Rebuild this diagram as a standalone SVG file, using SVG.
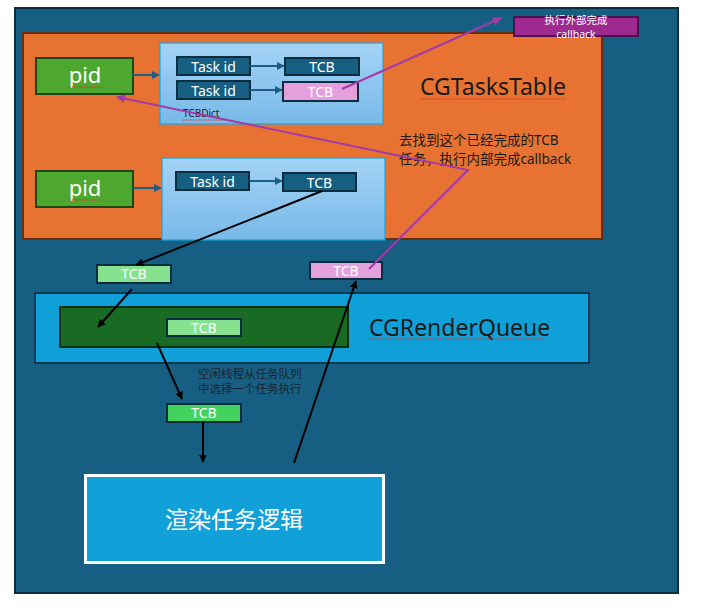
<svg xmlns="http://www.w3.org/2000/svg" width="716" height="615" viewBox="0 0 716 615">
<defs>
<linearGradient id="dictGrad" x1="0" y1="0" x2="0" y2="1">
<stop offset="0" stop-color="#a4d3f6"/>
<stop offset="1" stop-color="#78b9e8"/>
</linearGradient>
<marker id="arB" viewBox="0 0 10 10" refX="9" refY="5" markerWidth="4" markerHeight="4" orient="auto"><path d="M0,0 L10,5 L0,10 z" fill="#1b5f82"/></marker>
<marker id="arK" viewBox="0 0 10 10" refX="9" refY="5" markerWidth="4" markerHeight="4" orient="auto"><path d="M0,0 L10,5 L0,10 z" fill="#000"/></marker>
<marker id="arP" viewBox="0 0 10 10" refX="9" refY="5" markerWidth="4.5" markerHeight="4.5" orient="auto"><path d="M0,0 L10,5 L0,10 z" fill="#a23aa8"/></marker>
</defs>
<style>
text{font-family:"Noto Sans","Noto Sans CJK SC",sans-serif}
.task{fill:#175f82;stroke:#0c2d3e;stroke-width:2}
.tw{fill:#fff;font-size:14px;text-anchor:middle}
.pid{fill:#4ea72e;stroke:#1e4619;stroke-width:2}
.dict{fill:url(#dictGrad);stroke:#1aa3e2;stroke-width:1.2}
.lb{fill:none;stroke:#1b5f82;stroke-width:2;marker-end:url(#arB)}
.lk{fill:none;stroke:#000;stroke-width:2;marker-end:url(#arK)}
.lp{fill:none;stroke:#a23aa8;stroke-width:2;marker-end:url(#arP)}
.sq{fill:none;stroke:#e0302a;stroke-width:1;stroke-dasharray:1.5 1}
.dk{fill:#1a1a1a}
</style>
<rect width="716" height="615" fill="#fff"/>
<g id="outer">
<rect x="15" y="8" width="663" height="585" fill="#175f82" stroke="#0c2d3e" stroke-width="2"/>
</g>
<g id="tasksTable">
<rect x="23" y="33" width="579" height="206" fill="#e87231" stroke="#6a2d10" stroke-width="2"/>
<text x="420" y="95" font-size="23" class="dk">CGTasksTable</text>
<path class="sq" d="M421,99 H566"/>
</g>
<g id="note1">
<text x="399" y="145" font-size="13.5" class="dk">去找到这个已经完成的TCB</text>
<text x="399" y="164" font-size="13.5" class="dk">任务，执行内部完成callback</text>
</g>
<g id="pid1">
<rect class="pid" x="36" y="58" width="97" height="36"/>
<text x="85" y="83" font-size="22" fill="#fff" text-anchor="middle">pid</text>
<path class="sq" d="M69,87 H101"/>
</g>
<g id="pid2">
<rect class="pid" x="36" y="171" width="97" height="36"/>
<text x="85" y="196" font-size="22" fill="#fff" text-anchor="middle">pid</text>
<path class="sq" d="M69,200 H101"/>
</g>
<g id="dict1">
<rect class="dict" x="160" y="43" width="223" height="81"/>
<text x="183" y="117" font-size="10" fill="#222">TCBDict</text>
<path class="sq" d="M183,120 H225"/>
</g>
<g id="dict2">
<rect class="dict" x="162" y="158" width="223" height="82"/>
</g>
<g id="taskid1"><rect class="task" x="177" y="57" width="73" height="18"/><text class="tw" x="213.5" y="71.5">Task id</text></g>
<g id="taskid2"><rect class="task" x="177" y="81" width="73" height="18"/><text class="tw" x="213.5" y="95.5">Task id</text></g>
<g id="taskid3"><rect class="task" x="176" y="172" width="73" height="18"/><text class="tw" x="212.5" y="186.5">Task id</text></g>
<g id="tcb1"><rect class="task" x="285" y="58" width="74" height="17"/><text class="tw" x="322" y="72">TCB</text></g>
<g id="tcb2"><rect x="283" y="82" width="75" height="19" fill="#e4a0dc" stroke="#0c2d3e" stroke-width="2"/><text class="tw" x="320.5" y="97">TCB</text></g>
<g id="tcb3"><rect class="task" x="283" y="173" width="73" height="18"/><text class="tw" x="319.5" y="187.5">TCB</text></g>
<g id="callbackBox">
<rect x="514" y="17" width="124" height="19" fill="#9e2a90" stroke="#4a1050" stroke-width="2"/>
<text x="576" y="24" font-size="10.5" fill="#fff" text-anchor="middle">执行外部完成</text>
<text x="576" y="37.5" font-size="10.5" fill="#fff" text-anchor="middle">callback</text>
</g>
<g id="tcbOut"><rect x="97" y="265" width="74" height="18" fill="#86e28e" stroke="#0c2d3e" stroke-width="2"/><text class="tw" x="134" y="279">TCB</text></g>
<g id="tcbPink"><rect x="310" y="262" width="72" height="17" fill="#e4a0dc" stroke="#0c2d3e" stroke-width="2"/><text class="tw" x="346" y="276">TCB</text></g>
<g id="renderQueue">
<rect x="35" y="293" width="554" height="70" fill="#10a0d8" stroke="#0c3a52" stroke-width="2"/>
<rect x="60" y="307" width="288" height="40" fill="#196b24" stroke="#0c2d16" stroke-width="2"/>
<text x="369" y="336" font-size="23" class="dk">CGRenderQueue</text>
<path class="sq" d="M370,339 H548"/>
</g>
<g id="tcbQueue"><rect x="167" y="319" width="74" height="17" fill="#86e28e" stroke="#0c2d3e" stroke-width="2"/><text class="tw" x="204" y="333">TCB</text></g>
<g id="note2">
<text x="198" y="378" font-size="11.5" fill="#1c2430">空闲线程从任务队列</text>
<text x="198" y="393" font-size="11.5" fill="#1c2430">中选择一个任务执行</text>
</g>
<g id="tcbRun"><rect x="167" y="404" width="74" height="18" fill="#44d25f" stroke="#0c2d3e" stroke-width="2"/><text class="tw" x="204" y="418">TCB</text></g>
<g id="renderLogic">
<rect x="85.5" y="475.5" width="298" height="87" fill="#12a0d8" stroke="#fff" stroke-width="3"/>
<text x="234" y="528" font-size="23" fill="#fff" text-anchor="middle">渲染任务逻辑</text>
</g>
<g id="connectors">
<path class="lb" d="M133,75 H159"/>
<path class="lb" d="M133,188 H161"/>
<path class="lb" d="M250,66 H284"/>
<path class="lb" d="M250,90 H282"/>
<path class="lb" d="M249,181 H282"/>
<path class="lk" d="M322,191 L136,265"/>
<path class="lk" d="M132,289 L98,327"/>
<path class="lk" d="M157,343 L182,399"/>
<path class="lk" d="M203,422 L203,462"/>
<path class="lk" d="M294,463 L356,281"/>
<path class="lp" d="M342,89 L501,18"/>
<path class="lp" d="M369,269 L468,170 L117,97"/>
</g>
</svg>
